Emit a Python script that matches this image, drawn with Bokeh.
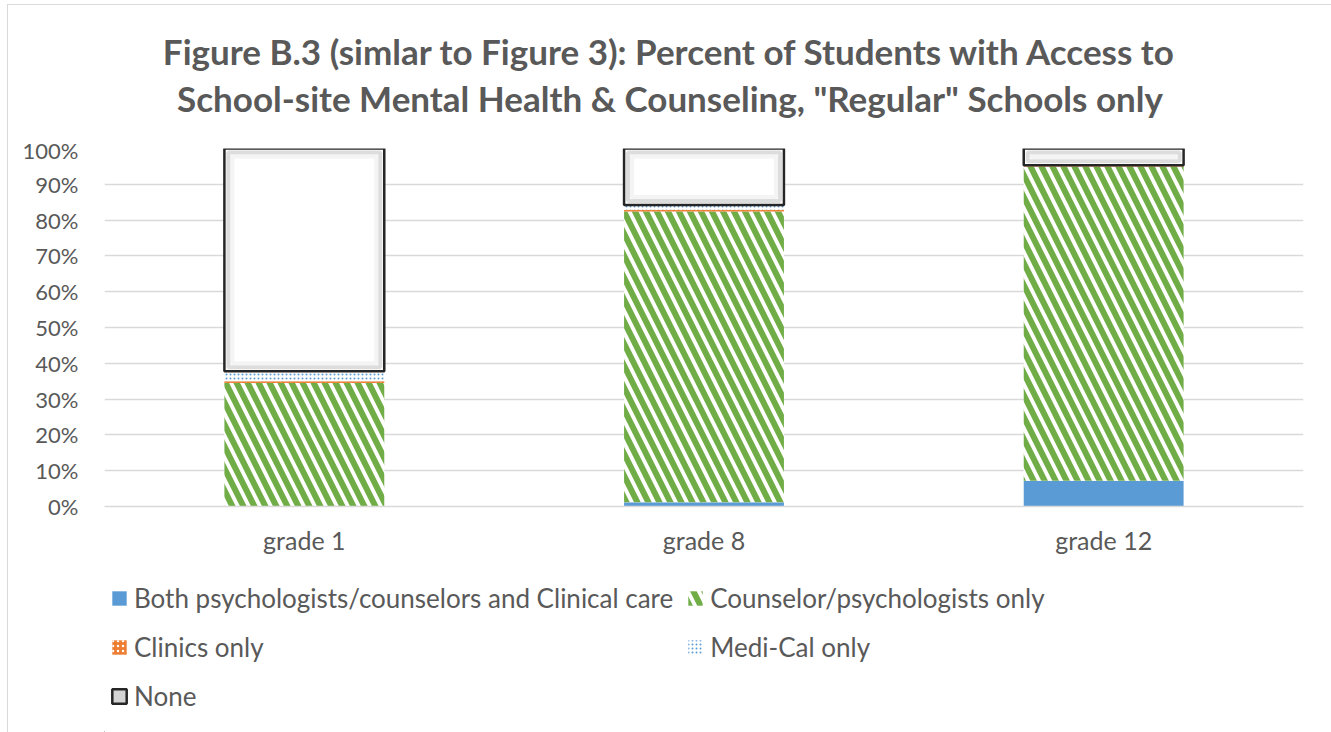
import numpy as np
from bokeh.plotting import figure
from bokeh.layouts import column
from bokeh.core.properties import value
from bokeh.models import (ColumnDataSource, Legend, LegendItem, FixedTicker,
                          PrintfTickFormatter, Range1d, FactorRange)
from bokeh.embed import file_html
from bokeh.resources import INLINE

# Grades and percent of students by type of school-site mental health access
grades = ["grade 1", "grade 8", "grade 12"]
both = [0.0, 1.2, 7.2]          # Both psychologists/counselors and Clinical care
counselor = [34.5, 81.2, 87.8]  # Counselor/psychologists only
clinics = [0.5, 0.5, 0.1]       # Clinics only
medical = [2.8, 1.3, 0.2]       # Medi-Cal only
none_ = [62.2, 15.8, 4.7]       # None

series_names = ["Both psychologists/counselors and Clinical care",
                "Counselor/psychologists only", "Clinics only", "Medi-Cal only", "None"]
series = [both, counselor, clinics, medical, none_]

title_lines = ["Figure B.3 (simlar to Figure 3): Percent of Students with Access to",
               'School-site Mental Health & Counseling, "Regular" Schools only']

y_ticks = list(range(0, 101, 10))

FONT = "Lato"
TXT = "#595959"
GRID = "#d9d9d9"
W = 0.4
FIG_W = 1323
LEFT, RIGHT = 96, 28


def blank_strip(height):
    # frame shares the chart's left/right borders; x range is in canvas pixels
    f = figure(width=FIG_W, height=height, x_range=Range1d(LEFT, FIG_W - RIGHT),
               y_range=Range1d(0, height), output_backend="svg", toolbar_location=None,
               x_axis_location=None, y_axis_location=None,
               min_border_left=LEFT, min_border_right=RIGHT, min_border_top=0, min_border_bottom=0)
    f.outline_line_color = None
    f.xgrid.grid_line_color = None
    f.ygrid.grid_line_color = None
    f.background_fill_color = "white"
    f.border_fill_color = "white"
    return f


# cumulative bottoms/tops for the stacked bars
vals = np.array(series, dtype=float)
tops = np.cumsum(vals, axis=0)
bottoms = tops - vals

src = {"x": grades}
for i in range(len(series)):
    src[f"b{i}"] = bottoms[i]
    src[f"t{i}"] = tops[i]
source = ColumnDataSource(src)

styles = [
    dict(fill_color="#5B9BD5", line_color=None),
    dict(fill_color="white", line_color=None, hatch_pattern="left_diagonal_line",
         hatch_color="#70AD47", hatch_scale=22, hatch_weight=6),
    dict(fill_color="#ED7D31", line_color=None, hatch_pattern="dot",
         hatch_color="white", hatch_scale=5, hatch_weight=1.5),
    dict(fill_color="white", line_color=None, hatch_pattern="dot",
         hatch_color="#5B9BD5", hatch_scale=4, hatch_weight=2),
    dict(fill_color="white", line_color="#262626", line_width=2.5),
]

# ---- title strip ----
TITLE_H = 131
t = blank_strip(TITLE_H)
t.text(x=[FIG_W / 2, FIG_W / 2], y=[TITLE_H - 45, TITLE_H - 92], text=title_lines,
       text_font=value(FONT), text_font_size="35px", text_font_style="bold",
       text_color=TXT, text_align="center", text_baseline="middle")

# ---- main chart ----
p = figure(width=FIG_W, height=444, x_range=FactorRange(*grades), y_range=Range1d(0, 100),
           output_backend="svg", toolbar_location=None,
           min_border_left=LEFT, min_border_right=RIGHT, min_border_top=12, min_border_bottom=74)
p.outline_line_color = None
p.background_fill_color = "white"
p.border_fill_color = "white"

for i, st in enumerate(styles):
    p.vbar(x="x", bottom=f"b{i}", top=f"t{i}", width=W, source=source, **st)

# bevel shading inside the "None" boxes
inset_px = [(4, "#cfcfcf", 4, 0.7), (8, "#ececec", 4, 0.6)]
ypx = 100.0 / 358.0
xpx = 3.0 / 1199.0
for d, col, lw, a in inset_px:
    p.vbar(x=grades, bottom=list(bottoms[4] + d * ypx), top=list(tops[4] - d * ypx),
           width=W - 2 * d * xpx, fill_color=None, line_color=col, line_width=lw, line_alpha=a)

p.yaxis.ticker = FixedTicker(ticks=y_ticks)
p.yaxis.formatter = PrintfTickFormatter(format="%d%%")
p.yaxis.axis_line_color = None
p.yaxis.major_tick_line_color = None
p.yaxis.minor_tick_line_color = None
p.yaxis.major_label_standoff = 20
p.yaxis.major_label_text_font = FONT
p.yaxis.major_label_text_font_size = "22px"
p.yaxis.major_label_text_color = TXT

p.xaxis.axis_line_color = GRID
p.xaxis.axis_line_width = 1.5
p.xaxis.major_tick_line_color = None
p.xaxis.minor_tick_line_color = None
p.xaxis.major_label_standoff = 12
p.xaxis.major_label_text_font = FONT
p.xaxis.major_label_text_font_size = "25px"
p.xaxis.major_label_text_color = TXT

p.xgrid.grid_line_color = None
p.ygrid.grid_line_color = GRID
p.ygrid.grid_line_width = 1.5

# ---- legend strip under the chart ----
LEG_H = 152
q = blank_strip(LEG_H)
# one off-range bar per series so each legend swatch has something to draw from
hidden = ColumnDataSource(dict(x=[-1000.0], b=[-100.0], t=[-99.0]))
swatch_styles = [dict(st) for st in styles]
swatch_styles[4].update(fill_color="#d4d4d4")
leg_renderers = [q.vbar(x="x", bottom="b", top="t", width=1, source=hidden, **st)
                 for st in swatch_styles]
items = [LegendItem(label=n, renderers=[r]) for n, r in zip(series_names, leg_renderers)]
legend = Legend(items=items, orientation="horizontal", ncols=2, location=(6, 18),
                label_text_font=FONT, label_text_font_size="26px", label_text_color=TXT,
                glyph_width=18, glyph_height=18, label_standoff=6, label_height=36,
                spacing=13, padding=0, margin=0, border_line_color=None,
                background_fill_alpha=0)
q.add_layout(legend, "center")

layout = column(t, p, q, spacing=0)
layout.styles = {"margin-left": "7px", "margin-top": "4px",
                 "border-left": "1.5px solid #d9d9d9", "border-top": "1.5px solid #d9d9d9"}

open("out.html", "w").write(file_html(layout, INLINE))
